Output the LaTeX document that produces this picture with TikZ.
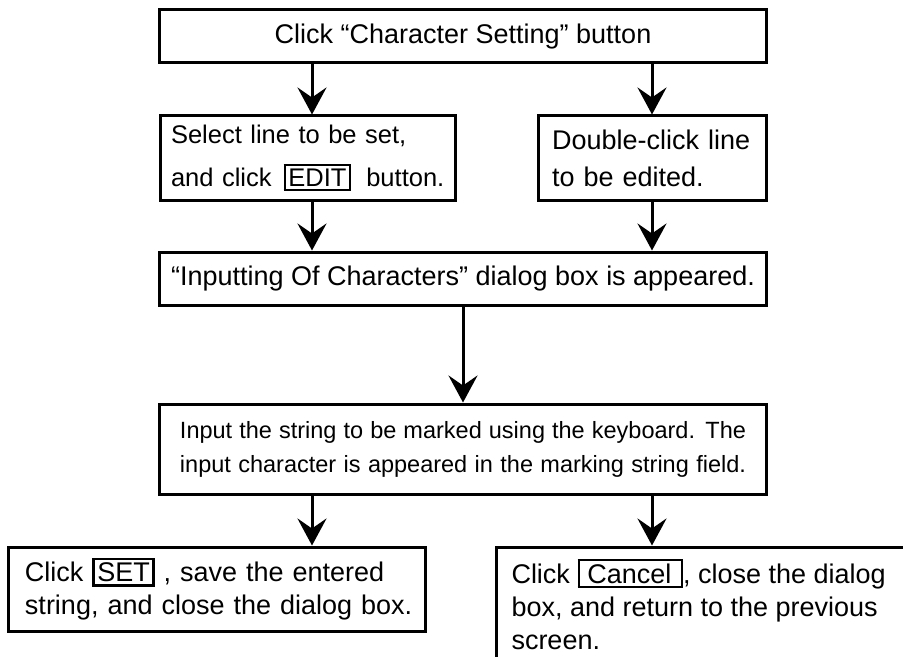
\documentclass[tikz,border=0pt]{standalone}
\usepackage{fontspec}
\setmainfont{Liberation Sans}
\usetikzlibrary{arrows.meta}
\newcommand{\btn}[1]{{\setlength{\fboxrule}{2.2bp}\setlength{\fboxsep}{2.6bp}\fbox{#1}}}

\begin{document}
\begin{tikzpicture}[x=1bp, y=-1bp, line width=3bp,
  box/.style={draw, rectangle, inner sep=0pt, font=\fontsize{27bp}{33bp}\selectfont},
  flow/.style={-{Stealth[length=27bp, width=29bp, inset=10bp]}}]
  \useasboundingbox (0,0) rectangle (903,657);
  \clip (0,0) rectangle (903,657);
  % arrow columns
  \coordinate (lx) at (312,0);
  \coordinate (rx) at (652,0);
  % start
  \node[box, minimum width=606bp, minimum height=53bp] (click) at (463,36.5)
    {Click “Character Setting” button};
  % two ways in
  \node[box, minimum width=295bp, minimum height=84bp, text width=273bp, align=left,
    font=\fontsize{25.5bp}{43bp}\selectfont] (sel) at (307.5,158)
    {Select line to be set,\\\mbox{and click\hspace{12bp}\btn{EDIT}\hspace{15bp}button.}};
  \node[box, minimum width=228bp, minimum height=84bp, text width=200bp, align=left,
    font=\fontsize{27bp}{37bp}\selectfont] (dbl) at (652,158)
    {\mbox{Double-click line}\\to be edited.};
  % dialog
  \node[box, minimum width=606bp, minimum height=53bp] (dlg) at (463,278.5)
    {“Inputting Of Characters” dialog box is appeared.};
  \node[box, minimum width=606bp, minimum height=90bp, align=left,
    font=\fontsize{23.5bp}{34bp}\selectfont] (inp) at (463,449)
    {\makebox[566bp][s]{Input the string to be marked using the keyboard. The}\\
     \makebox[566bp][s]{input character is appeared in the marking string field.}};
  % two ways out
  \node[box, minimum width=416bp, minimum height=84bp, text width=384bp, align=left] (set) at (217,589)
    {\mbox{Click \btn{SET} , save the entered}\\\mbox{string, and close the dialog box.}};
  \node[box, anchor=north west, inner xsep=15bp, inner ysep=12bp] (can) at (495,545.5)
    {\parbox[t][130bp][t]{420bp}{Click \btn{\hspace{5bp}Cancel\hspace{7bp}}, close the dialog\\box, and return to the previous\\screen.}};
  % arrows
  \draw[flow] (click.south -| lx) -- (sel.north -| lx);
  \draw[flow] (click.south -| rx) -- (dbl.north -| rx);
  \draw[flow] (sel.south -| lx) -- (dlg.north -| lx);
  \draw[flow] (dbl.south -| rx) -- (dlg.north -| rx);
  \draw[flow] (dlg.south) -- (inp.north);
  \draw[flow] (inp.south -| lx) -- (set.north -| lx);
  \draw[flow] (inp.south -| rx) -- (can.north -| rx);
\end{tikzpicture}
\end{document}
